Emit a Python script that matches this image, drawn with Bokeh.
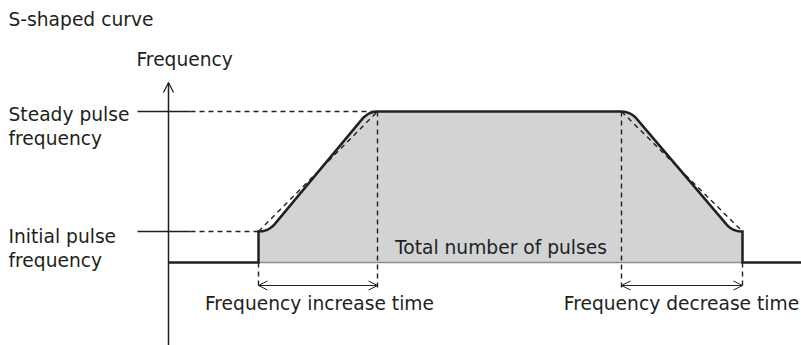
import numpy as np
from bokeh.plotting import figure
from bokeh.models import Range1d, Arrow, OpenHead, ColumnDataSource
from bokeh.core.properties import value
from bokeh.embed import file_html
from bokeh.resources import INLINE

# ---- diagram values (time units on x, frequency units on y; origin = axis crossing) ----
ramp_times = [90, 209, 453, 574]          # ramp start, accel end, decel start, ramp end
s_vertex_times = [100, 200, 462, 564]     # corner points of the S-shaped curve
freq_base = 0
freq_initial = 31
freq_steady = 151
time_min, time_max = -168, 633
freq_min, freq_max = -83, 262
axis_top = 180
marker_depth = -27                        # lower end of the dashed time markers
span_level = -23                          # level of the time-span arrows

title_text = "S-shaped curve"
axis_label = "Frequency"
side_labels = ["Steady pulse", "frequency", "Initial pulse", "frequency"]
area_label = "Total number of pulses"
span_labels = ["Frequency increase time", "Frequency decrease time"]

INK = "#231f20"
FONT = "DejaVu Sans"
FS = "14pt"

# ---- build the S-shaped path ----
def corner(v, d_in, d_out, r, n=16):
    v = np.asarray(v, float)
    p0 = v - r * np.asarray(d_in)
    p2 = v + r * np.asarray(d_out)
    t = np.linspace(0, 1, n)[:, None]
    return (1 - t) ** 2 * p0 + 2 * (1 - t) * t * v + t ** 2 * p2

def unit(a, b):
    d = np.asarray(b, float) - np.asarray(a, float)
    return d / np.hypot(*d)

t0, t1, t2, t3 = ramp_times
v1 = (s_vertex_times[0], freq_initial)
v2 = (s_vertex_times[1], freq_steady)
v3 = (s_vertex_times[2], freq_steady)
v4 = (s_vertex_times[3], freq_initial)
up = unit(v1, v2)
down = unit(v3, v4)
r = 10
curve = np.vstack([
    corner(v1, (1, 0), up, r),
    corner(v2, up, (1, 0), r),
    corner(v3, (1, 0), down, r),
    corner(v4, down, (1, 0), r),
])
curve_t = list(curve[:, 0])
curve_f = list(curve[:, 1])

p = figure(width=801, height=345, output_backend="svg", toolbar_location=None,
           x_range=Range1d(time_min, time_max), y_range=Range1d(freq_min, freq_max),
           x_axis_type=None, y_axis_type=None, min_border=0)
p.outline_line_color = None
p.background_fill_color = "white"
p.border_fill_color = "white"

# gray area (total number of pulses)
area_t = [t0] + curve_t + [t3]
area_f = [freq_base] + curve_f + [freq_base]
p.patch(area_t, area_f, fill_color="#d1d3d4", line_color=None)
p.line([t0, t3], [freq_base, freq_base], line_color="#8a8c8e", line_width=1.5)

# dashed straight (linear) ramps
p.line([t0, t1], [freq_initial, freq_steady], line_color=INK, line_width=1.4, line_dash="5 4")
p.line([t2, t3], [freq_steady, freq_initial], line_color=INK, line_width=1.4, line_dash="5 4")

# dashed time markers
p.multi_line([[t0, t0], [t1, t1], [t2, t2], [t3, t3]],
             [[freq_base, marker_depth], [freq_steady, marker_depth],
              [freq_steady, marker_depth], [freq_base, marker_depth]],
             line_color=INK, line_width=1.4, line_dash="5 4")

# dashed level lines
lead_end = 22
p.multi_line([[lead_end, t1], [lead_end, t0]], [[freq_steady, freq_steady], [freq_initial, freq_initial]],
             line_color=INK, line_width=1.4, line_dash="5 4")
# solid leader ticks
p.multi_line([[-31, lead_end], [-31, lead_end]], [[freq_steady, freq_steady], [freq_initial, freq_initial]],
             line_color=INK, line_width=1.4)

# solid S-shaped curve
path_t = [0, t0] + curve_t + [t3, time_max]
path_f = [freq_base, freq_base] + curve_f + [freq_base, freq_base]
p.line(path_t, path_f, line_color=INK, line_width=2.5, line_join="miter")

# frequency axis with arrow
p.add_layout(Arrow(x_start=0, y_start=freq_min - 2, x_end=0, y_end=axis_top,
                   line_color=INK, line_width=1.5,
                   end=OpenHead(size=10, line_color=INK, line_width=1.3)))

# time-span arrows
for a, b in [(t0, t1), (t2, t3)]:
    p.add_layout(Arrow(x_start=a, y_start=span_level, x_end=b, y_end=span_level,
                       line_color=INK, line_width=1.0,
                       start=OpenHead(size=9, line_color=INK, line_width=1.0),
                       end=OpenHead(size=9, line_color=INK, line_width=1.0)))

def txt(xs, ys, texts, align):
    src = ColumnDataSource(dict(x=xs, y=ys, text=texts))
    p.text(x="x", y="y", text="text", source=src, text_font=value(FONT),
           text_font_size=FS, text_color=INK, text_align=align,
           text_baseline="alphabetic")

dy = 8
txt([-160], [235.3 + dy], [title_text], "left")
txt([-32], [195.5 + dy], [axis_label], "left")
txt([-160] * 4, [140 + dy, 116.3 + dy, 17.7 + dy, -6.3 + dy], side_labels, "left")
txt([332.5], [7 + dy], [area_label], "center")
txt([151, 513], [-48.7 + dy, -48.7 + dy], span_labels, "center")

open("out.html", "w").write(file_html(p, INLINE))
